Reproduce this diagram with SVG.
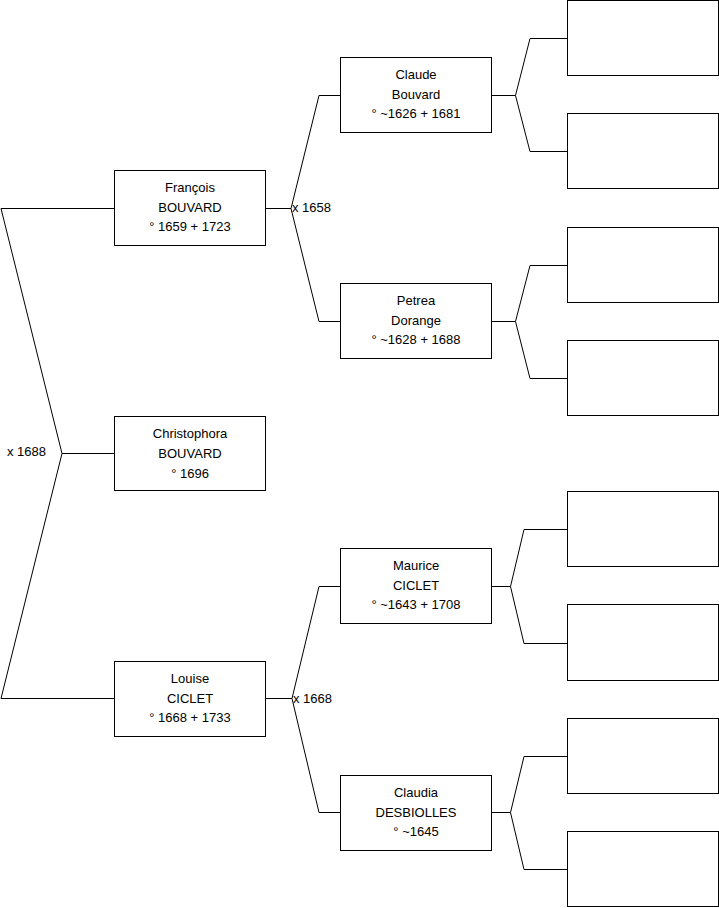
<svg xmlns="http://www.w3.org/2000/svg" width="719" height="908" viewBox="0 0 719 908">
<style>
.box{fill:#fff;stroke:#000;stroke-width:1}
.ln{fill:none;stroke:#000;stroke-width:1}
text{font-family:"Liberation Sans",Arial,sans-serif;font-size:13px;fill:#000}
.c{text-anchor:middle}
</style>
<rect width="719" height="908" fill="#fff"/>
<g id="connectors">
<path class="ln" d="M114.5,208.5 H1 L62,453.5 L1,698.5 H114.5 M62,453.5 H114.5"/>
<path class="ln" d="M265.5,208.5 H291 M340.5,95.5 H319 L291,208.5 L319,321.5 H340.5"/>
<path class="ln" d="M265.5,698.5 H292 M340.5,586.5 H319 L292,698.5 L319,812.5 H340.5"/>
<path class="ln" d="M491.5,95.5 H515.5 M567.5,38.5 H530 L515.5,95.5 L530,151.5 H567.5"/>
<path class="ln" d="M491.5,321.5 H515.5 M567.5,265.5 H530 L515.5,321.5 L530,378.5 H567.5"/>
<path class="ln" d="M491.5,586.5 H510.5 M567.5,529.5 H524 L510.5,586.5 L524,643.5 H567.5"/>
<path class="ln" d="M491.5,812.5 H510.5 M567.5,756.5 H524 L510.5,812.5 L524,869.5 H567.5"/>
<text x="7" y="455.5">x 1688</text>
<text x="292" y="211.5">x 1658</text>
<text x="293" y="702.5">x 1668</text>
</g>
<g id="francois">
<rect class="box" x="114.5" y="170.5" width="151" height="75"/>
<text class="c" x="190" y="191.5">François</text>
<text class="c" x="190" y="211.5">BOUVARD</text>
<text class="c" x="190" y="231">° 1659 + 1723</text>
</g>
<g id="christophora">
<rect class="box" x="114.5" y="416.5" width="151" height="74"/>
<text class="c" x="190" y="437.5">Christophora</text>
<text class="c" x="190" y="457.5">BOUVARD</text>
<text class="c" x="190" y="477.5">° 1696</text>
</g>
<g id="louise">
<rect class="box" x="114.5" y="661.5" width="151" height="75"/>
<text class="c" x="190" y="682.5">Louise</text>
<text class="c" x="190" y="702.5">CICLET</text>
<text class="c" x="190" y="722">° 1668 + 1733</text>
</g>
<g id="claude">
<rect class="box" x="340.5" y="57.5" width="151" height="75"/>
<text class="c" x="416" y="78.5">Claude</text>
<text class="c" x="416" y="98.5">Bouvard</text>
<text class="c" x="416" y="118">° ~1626 + 1681</text>
</g>
<g id="petrea">
<rect class="box" x="340.5" y="283.5" width="151" height="75"/>
<text class="c" x="416" y="304.5">Petrea</text>
<text class="c" x="416" y="324.5">Dorange</text>
<text class="c" x="416" y="344">° ~1628 + 1688</text>
</g>
<g id="maurice">
<rect class="box" x="340.5" y="548.5" width="151" height="75"/>
<text class="c" x="416" y="569.5">Maurice</text>
<text class="c" x="416" y="589.5">CICLET</text>
<text class="c" x="416" y="609">° ~1643 + 1708</text>
</g>
<g id="claudia">
<rect class="box" x="340.5" y="775.5" width="151" height="75"/>
<text class="c" x="416" y="796.5">Claudia</text>
<text class="c" x="416" y="816.5">DESBIOLLES</text>
<text class="c" x="416" y="836">° ~1645</text>
</g>
<g id="gp1"><rect class="box" x="567.5" y="0.5" width="151" height="75"/></g>
<g id="gp2"><rect class="box" x="567.5" y="113.5" width="151" height="75"/></g>
<g id="gp3"><rect class="box" x="567.5" y="227.5" width="151" height="75"/></g>
<g id="gp4"><rect class="box" x="567.5" y="340.5" width="151" height="75"/></g>
<g id="gp5"><rect class="box" x="567.5" y="491.5" width="151" height="75"/></g>
<g id="gp6"><rect class="box" x="567.5" y="604.5" width="151" height="76"/></g>
<g id="gp7"><rect class="box" x="567.5" y="718.5" width="151" height="75"/></g>
<g id="gp8"><rect class="box" x="567.5" y="831.5" width="151" height="75"/></g>
</svg>
